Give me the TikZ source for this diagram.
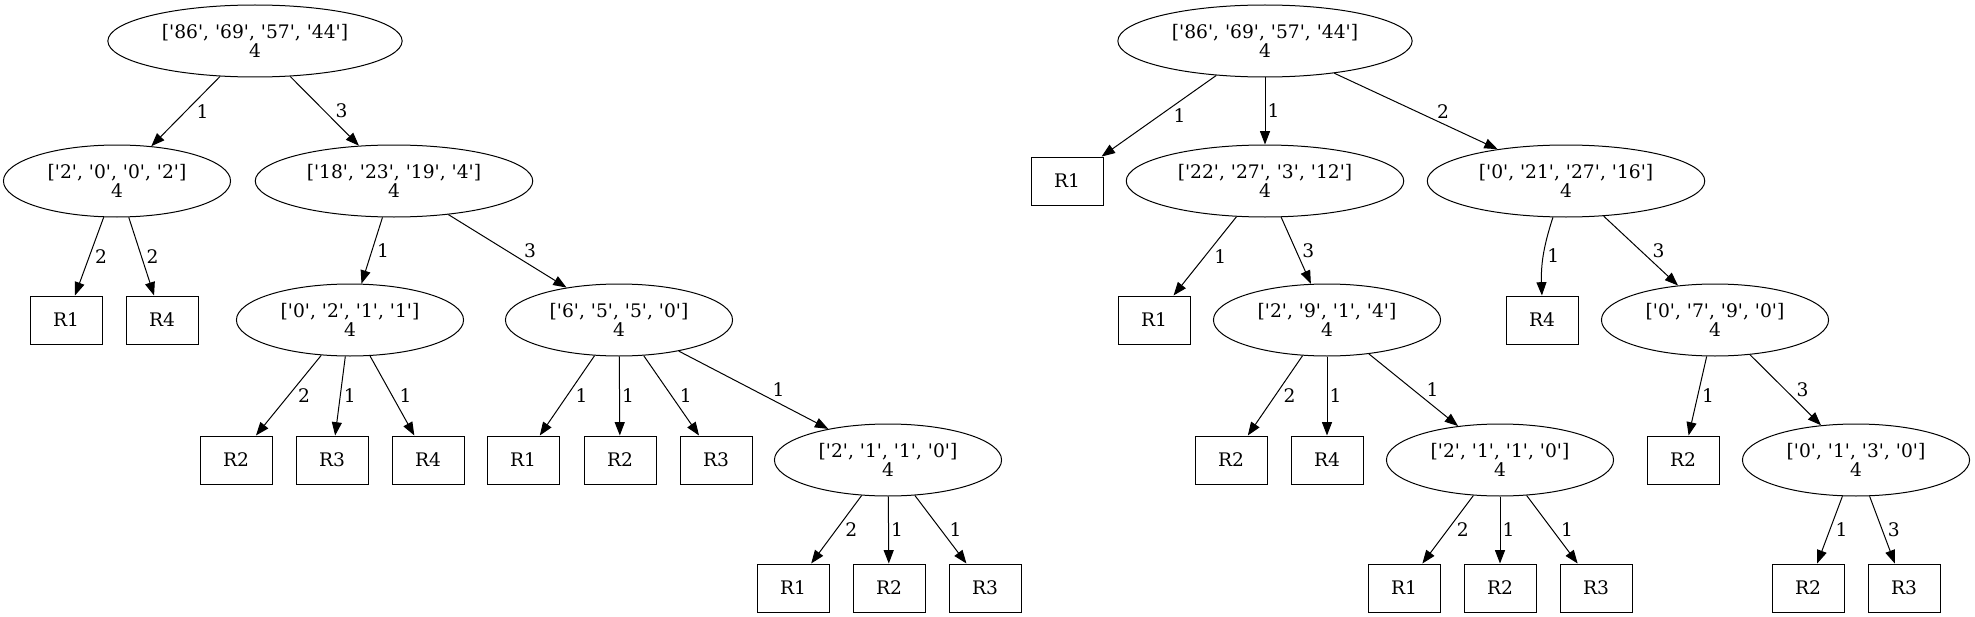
\documentclass[tikz,border=0pt]{standalone}
\usepackage{fontspec}
\setmainfont{DejaVu Serif}[Ligatures=TeXOff]
\usetikzlibrary{shapes.geometric,arrows.meta}
\newdimen\runx
\newdimen\runy

\begin{document}
\begin{tikzpicture}[x=0.75pt, y=-0.75pt, line width=0.75pt,
    every node/.style={font=\fontsize{14pt}{14pt}\selectfont},
    split/.style={ellipse, draw, align=center, inner xsep=8.2pt, inner ysep=2pt, minimum height=54pt},
    leaf/.style={rectangle, draw, minimum width=54pt, minimum height=36pt, inner sep=0pt},
    edge/.style={-{Triangle[length=10pt, width=7.5pt]}},
    wt/.style={midway, right, inner sep=1.5pt}]
            \useasboundingbox (0,0) rectangle (1975,617);
            % left tree
            \node [split] (L0)  at (255,41)  {['86', '69', '57', '44']\\4};
            \node [split] (L1a) at (117,181) {['2', '0', '0', '2']\\4};
            \node [split] (L1b) at (394,181) {['18', '23', '19', '4']\\4};
            \node [leaf]  (L2a) at (66,320)  {R1};
            \node [leaf]  (L2b) at (162,320) {R4};
            \node [split] (L2c) at (350,320) {['0', '2', '1', '1']\\4};
            \node [split] (L2d) at (619,320) {['6', '5', '5', '0']\\4};
            \node [leaf]  (L3a) at (236,460) {R2};
            \node [leaf]  (L3b) at (332,460) {R3};
            \node [leaf]  (L3c) at (428,460) {R4};
            \node [leaf]  (L3d) at (523,460) {R1};
            \node [leaf]  (L3e) at (620,460) {R2};
            \node [leaf]  (L3f) at (716,460) {R3};
            \node [split] (L3g) at (888,460) {['2', '1', '1', '0']\\4};
            \node [leaf]  (L4a) at (793,588) {R1};
            \node [leaf]  (L4b) at (889,588) {R2};
            \node [leaf]  (L4c) at (985,588) {R3};
            % right tree
            \node [split] (R0)  at (1265,41)  {['86', '69', '57', '44']\\4};
            \node [leaf]  (R1a) at (1067,181) {R1};
            \node [split] (R1b) at (1265,181) {['22', '27', '3', '12']\\4};
            \node [split] (R1c) at (1566,181) {['0', '21', '27', '16']\\4};
            \node [leaf]  (R2a) at (1154,320) {R1};
            \node [split] (R2b) at (1327,320) {['2', '9', '1', '4']\\4};
            \node [leaf]  (R2c) at (1542,320) {R4};
            \node [split] (R2d) at (1715,320) {['0', '7', '9', '0']\\4};
            \node [leaf]  (R3a) at (1231,460) {R2};
            \node [leaf]  (R3b) at (1327,460) {R4};
            \node [split] (R3c) at (1500,460) {['2', '1', '1', '0']\\4};
            \node [leaf]  (R3d) at (1683,460) {R2};
            \node [split] (R3e) at (1856,460) {['0', '1', '3', '0']\\4};
            \node [leaf]  (R4a) at (1404,588) {R1};
            \node [leaf]  (R4b) at (1500,588) {R2};
            \node [leaf]  (R4c) at (1596,588) {R3};
            \node [leaf]  (R4d) at (1808,588) {R2};
            \node [leaf]  (R4e) at (1904,588) {R3};
            % edges, the weight pushed right so that it clears the line
            \foreach \a/\b/\w in {L0/L1a/1, L0/L1b/3, L1a/L2a/2, L1a/L2b/2, L1b/L2c/1, L1b/L2d/3,
                        L2c/L3a/2, L2c/L3b/1, L2c/L3c/1, L2d/L3d/1, L2d/L3e/1, L2d/L3f/1, L2d/L3g/1,
                        L3g/L4a/2, L3g/L4b/1, L3g/L4c/1,
                        R0/R1a/1, R0/R1b/1, R0/R1c/2, R1b/R2a/1, R1b/R2b/3, R1c/R2d/3,
                        R2b/R3a/2, R2b/R3b/1, R2b/R3c/1, R2d/R3d/1, R2d/R3e/3,
                        R3c/R4a/2, R3c/R4b/1, R3c/R4c/1, R3e/R4d/1, R3e/R4e/3} {
                            \pgfextractx{\runx}{\pgfpointdiff{\pgfpointanchor{\a}{center}}{\pgfpointanchor{\b}{center}}}
                            \pgfextracty{\runy}{\pgfpointdiff{\pgfpointanchor{\a}{center}}{\pgfpointanchor{\b}{center}}}
                            \pgfmathsetmacro{\shift}{6.5*abs(\runx/\runy)}
                            \draw [edge] (\a) -- node [wt, xshift=\shift pt] {\w} (\b);
                        }
            \draw [edge] (R1c) to [bend right=10] node [wt, xshift=1pt] {1} (R2c);
        \end{tikzpicture}
\end{document}
